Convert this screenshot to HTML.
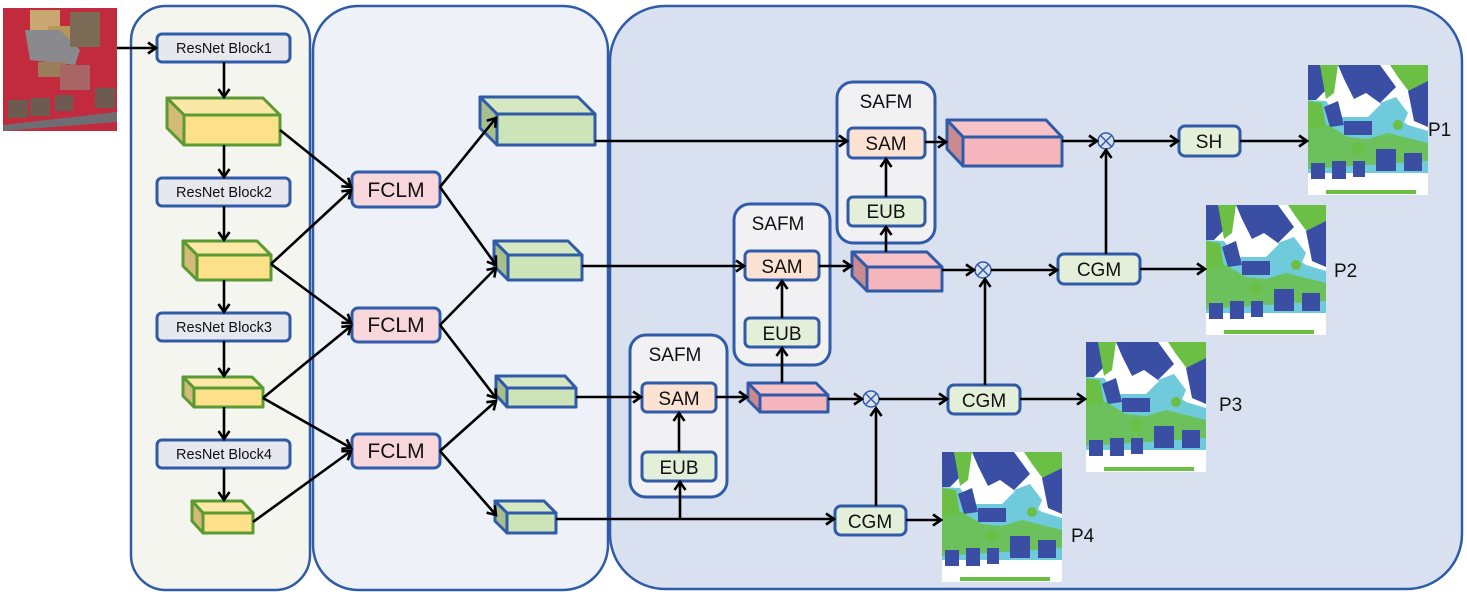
<!DOCTYPE html>
<html><head><meta charset="utf-8"><style>
html,body{margin:0;padding:0;background:#fff;}
svg{display:block;}
text{font-family:"Liberation Sans",Arial,sans-serif;fill:#111;}
</style></head><body>
<svg width="1467" height="597" viewBox="0 0 1467 597" xmlns="http://www.w3.org/2000/svg">
<defs>
<marker id="a" markerWidth="14" markerHeight="14" refX="11" refY="7" orient="auto" markerUnits="userSpaceOnUse">
<polyline points="3,1.5 11,7 3,12.5" fill="none" stroke="#000" stroke-width="2.6"/>
</marker>
<symbol id="map" viewBox="0 0 120 130">
<rect width="120" height="130" fill="#fff"/>
<path d="M0 0H12L18 25 8 35 0 35Z" fill="#3a4fa3"/>
<path d="M12 0H30L26 28 18 34Z" fill="#6cbf45"/>
<path d="M30 0H72L88 22 72 38 58 28 46 34 36 14Z" fill="#3a4fa3"/>
<path d="M82 0H120V18L102 28 90 12Z" fill="#6cbf45"/>
<path d="M100 26 120 16V62L106 56Z" fill="#3a4fa3"/>
<path d="M72 38 88 32 100 48 94 62 78 56Z" fill="#6fcbdc"/>
<path d="M0 35 18 36 30 52 60 52 72 40 100 60 120 66V108H0Z" fill="#6fcbdc"/>
<path d="M0 36 14 38 18 62 0 64Z" fill="#6cbf45"/>
<path d="M16 42 30 36 36 60 22 62Z" fill="#3a4fa3"/>
<path d="M36 56H64V70H36Z" fill="#3a4fa3"/>
<path d="M0 62 20 60 40 72 60 74 80 68 120 78V96L0 104Z" fill="#6cbf45" opacity=".85"/>
<circle cx="50" cy="84" r="6" fill="#6cbf45"/>
<circle cx="90" cy="60" r="5" fill="#6cbf45"/>
<rect x="3" y="98" width="14" height="16" fill="#3a4fa3"/>
<rect x="24" y="96" width="14" height="18" fill="#3a4fa3"/>
<rect x="45" y="96" width="12" height="16" fill="#3a4fa3"/>
<rect x="68" y="84" width="20" height="22" fill="#3a4fa3"/>
<rect x="96" y="88" width="18" height="18" fill="#3a4fa3"/>
<rect x="0" y="114" width="120" height="8" fill="#fff"/>
<rect x="18" y="125" width="90" height="4" fill="#6cbf45"/>
</symbol>
</defs>

<!-- input image -->
<rect x="3" y="8" width="114" height="123" fill="#c22a3e"/>
<rect x="30" y="10" width="30" height="22" fill="#c8a870"/>
<rect x="48" y="26" width="22" height="18" fill="#b8955a"/>
<path d="M25 30 60 30 80 50 75 65 30 60Z" fill="#8a8a8e"/>
<rect x="38" y="62" width="28" height="15" fill="#9c7d5a"/>
<rect x="70" y="12" width="30" height="35" fill="#7b6a55"/>
<rect x="60" y="65" width="30" height="25" fill="#a86565"/>
<rect x="8" y="100" width="20" height="18" fill="#6d5a50"/>
<rect x="30" y="98" width="20" height="18" fill="#6d5a50"/>
<rect x="55" y="95" width="18" height="16" fill="#6d5a50"/>
<rect x="95" y="88" width="20" height="20" fill="#6d5a50"/>
<path d="M3 125 117 112V122L3 131Z" fill="#6e6e72"/>

<!-- panels -->
<rect x="131" y="6" width="179" height="584" rx="35" fill="#f4f5ef" stroke="#2f5ba8" stroke-width="2.5"/>
<rect x="313" y="6" width="295" height="584" rx="45" fill="#eef2f8" stroke="#2f5ba8" stroke-width="2.5"/>
<rect x="610" y="6" width="852" height="583" rx="55" fill="#d9e1f0" stroke="#2f5ba8" stroke-width="2.5"/>

<g stroke="#2f5ba8" stroke-width="3">
<rect x="157" y="34" width="133" height="28" rx="5" fill="#e7e8ee"/>
<rect x="157" y="178" width="133" height="28" rx="5" fill="#e7e8ee"/>
<rect x="157" y="313" width="133" height="28" rx="5" fill="#e7e8ee"/>
<rect x="157" y="440" width="133" height="28" rx="5" fill="#e7e8ee"/>
<rect x="352" y="172" width="88" height="35" rx="6" fill="#f8d7dc"/>
<rect x="352" y="308" width="88" height="34" rx="6" fill="#f8d7dc"/>
<rect x="352" y="434" width="88" height="34" rx="6" fill="#f8d7dc"/>
</g>
<g font-size="14.5" text-anchor="middle">
<text x="224" y="53">ResNet Block1</text>
<text x="224" y="197">ResNet Block2</text>
<text x="224" y="332">ResNet Block3</text>
<text x="224" y="459">ResNet Block4</text>
</g>
<g font-size="21" text-anchor="middle">
<text x="396" y="197">FCLM</text>
<text x="396" y="332">FCLM</text>
<text x="396" y="458">FCLM</text>
</g>

<!-- yellow cubes -->
<g stroke="#5a9a32" stroke-width="3" stroke-linejoin="round">
<polygon points="167,98 263,98 280,115 184,115" fill="#fbe7a6"/><polygon points="167,98 184,115 184,145 167,128" fill="#d3ba78"/><rect x="184" y="115" width="96" height="30" fill="#fde08a"/>
<polygon points="183,241 257,241 271,255 197,255" fill="#fbe7a6"/><polygon points="183,241 197,255 197,280 183,266" fill="#d3ba78"/><rect x="197" y="255" width="74" height="25" fill="#fde08a"/>
<polygon points="183,377 252,377 263,388 194,388" fill="#fbe7a6"/><polygon points="183,377 194,388 194,407 183,396" fill="#d3ba78"/><rect x="194" y="388" width="69" height="19" fill="#fde08a"/>
<polygon points="192,501 242,501 253,513 203,513" fill="#fbe7a6"/><polygon points="192,501 203,513 203,533 192,521" fill="#d3ba78"/><rect x="203" y="513" width="50" height="20" fill="#fde08a"/>
</g>
<!-- green cubes -->
<g stroke="#2f5ba8" stroke-width="3" stroke-linejoin="round">
<polygon points="480,97 578,97 595,114 497,114" fill="#d6e8c2"/><polygon points="480,97 497,114 497,145 480,128" fill="#a7bf8e"/><rect x="497" y="114" width="98" height="31" fill="#cde3b8"/>
<polygon points="494,241 568,241 582,255 508,255" fill="#d6e8c2"/><polygon points="494,241 508,255 508,280 494,266" fill="#a7bf8e"/><rect x="508" y="255" width="74" height="25" fill="#cde3b8"/>
<polygon points="496,376 565,376 576,388 507,388" fill="#d6e8c2"/><polygon points="496,376 507,388 507,407 496,395" fill="#a7bf8e"/><rect x="507" y="388" width="69" height="19" fill="#cde3b8"/>
<polygon points="495,501 544,501 556,513 507,513" fill="#d6e8c2"/><polygon points="495,501 507,513 507,533 495,521" fill="#a7bf8e"/><rect x="507" y="513" width="49" height="20" fill="#cde3b8"/>
</g>

<!-- SAFM boxes -->
<g stroke="#2f5ba8" stroke-width="3">
<rect x="837" y="82" width="98" height="161" rx="16" fill="#f1f1f3"/>
<rect x="734" y="204" width="96" height="161" rx="16" fill="#f1f1f3"/>
<rect x="630" y="335" width="97" height="162" rx="16" fill="#f1f1f3"/>
<rect x="848" y="128" width="77" height="30" rx="5" fill="#fbe2d2"/>
<rect x="848" y="197" width="77" height="29" rx="5" fill="#e4efd9"/>
<rect x="745" y="251" width="74" height="29" rx="5" fill="#fbe2d2"/>
<rect x="745" y="318" width="74" height="29" rx="5" fill="#e4efd9"/>
<rect x="642" y="383" width="74" height="29" rx="5" fill="#fbe2d2"/>
<rect x="642" y="452" width="74" height="29" rx="5" fill="#e4efd9"/>
<rect x="1179" y="126" width="61" height="30" rx="6" fill="#e4efd9"/>
<rect x="1058" y="254" width="82" height="30" rx="6" fill="#e4efd9"/>
<rect x="948" y="385" width="72" height="29" rx="6" fill="#e4efd9"/>
<rect x="835" y="506" width="71" height="29" rx="6" fill="#e4efd9"/>
</g>
<g font-size="19" text-anchor="middle">
<text x="886" y="108">SAFM</text>
<text x="778" y="230">SAFM</text>
<text x="675" y="361">SAFM</text>
<text x="886" y="150">SAM</text>
<text x="886" y="218">EUB</text>
<text x="782" y="273">SAM</text>
<text x="782" y="340">EUB</text>
<text x="679" y="405">SAM</text>
<text x="679" y="474">EUB</text>
<text x="1209" y="148">SH</text>
<text x="1099" y="276">CGM</text>
<text x="984" y="407">CGM</text>
<text x="870" y="528">CGM</text>
</g>

<!-- pink cubes -->
<g stroke="#2f5ba8" stroke-width="3" stroke-linejoin="round">
<polygon points="947,120 1046,120 1062,137 963,137" fill="#f7c3c9"/><polygon points="947,120 963,137 963,166 947,149" fill="#c98a92"/><rect x="963" y="137" width="99" height="29" fill="#f4b5bd"/>
<polygon points="852,252 927,252 942,267 867,267" fill="#f7c3c9"/><polygon points="852,252 867,267 867,291 852,276" fill="#c98a92"/><rect x="867" y="267" width="75" height="24" fill="#f4b5bd"/>
<polygon points="748,383 816,383 828,395 760,395" fill="#f7c3c9"/><polygon points="748,383 760,395 760,412 748,400" fill="#c98a92"/><rect x="760" y="395" width="68" height="17" fill="#f4b5bd"/>
</g>

<!-- otimes -->
<g fill="none" stroke="#2f5ba8" stroke-width="1.5">
<circle cx="1106" cy="141" r="8"/><path d="M1100.5 135.5l11 11M1111.5 135.5l-11 11"/>
<circle cx="983" cy="270" r="8"/><path d="M977.5 264.5l11 11M988.5 264.5l-11 11"/>
<circle cx="871" cy="399" r="8"/><path d="M865.5 393.5l11 11M876.5 393.5l-11 11"/>
</g>

<!-- maps -->
<use href="#map" x="1308" y="65" width="120" height="130"/>
<use href="#map" x="1206" y="205" width="120" height="130"/>
<use href="#map" x="1086" y="342" width="120" height="130"/>
<use href="#map" x="942" y="452" width="120" height="130"/>
<g font-size="19">
<text x="1428" y="136">P1</text>
<text x="1334" y="277">P2</text>
<text x="1219" y="411">P3</text>
<text x="1071" y="542">P4</text>
</g>

<!-- arrows -->
<g stroke="#000" stroke-width="2.6" fill="none" marker-end="url(#a)">
<path d="M117 48H156"/>
<path d="M224 62V97"/>
<path d="M224 145V177"/>
<path d="M224 206V240"/>
<path d="M224 280V312"/>
<path d="M224 341V376"/>
<path d="M224 407V439"/>
<path d="M224 468V500"/>
<path d="M280 130L351 187"/>
<path d="M271 264L351 190"/>
<path d="M271 264L351 323"/>
<path d="M263 398L351 326"/>
<path d="M263 398L351 448"/>
<path d="M253 522L351 451"/>
<path d="M440 187L496 118"/>
<path d="M440 187L496 265"/>
<path d="M440 325L496 268"/>
<path d="M440 325L496 398"/>
<path d="M440 451L496 401"/>
<path d="M440 451L496 515"/>
<path d="M595 141H847"/>
<path d="M582 266H744"/>
<path d="M576 397H641"/>
<path d="M556 519H834"/>
<path d="M680 519V482"/>
<path d="M679 452V413"/>
<path d="M782 318V281"/>
<path d="M886 197V159"/>
<path d="M716 397H747"/>
<path d="M819 266H851"/>
<path d="M925 142H946"/>
<path d="M782 383V348"/>
<path d="M886 252V227"/>
<path d="M828 399H862"/>
<path d="M942 270H974"/>
<path d="M1062 141H1097"/>
<path d="M879 399H947"/>
<path d="M991 270H1057"/>
<path d="M1114 141H1178"/>
<path d="M1240 141H1307"/>
<path d="M1106 254V150"/>
<path d="M985 385V279"/>
<path d="M876 506V408"/>
<path d="M1140 269H1205"/>
<path d="M1020 399H1085"/>
<path d="M906 520H941"/>
</g>
</svg>
</body></html>
